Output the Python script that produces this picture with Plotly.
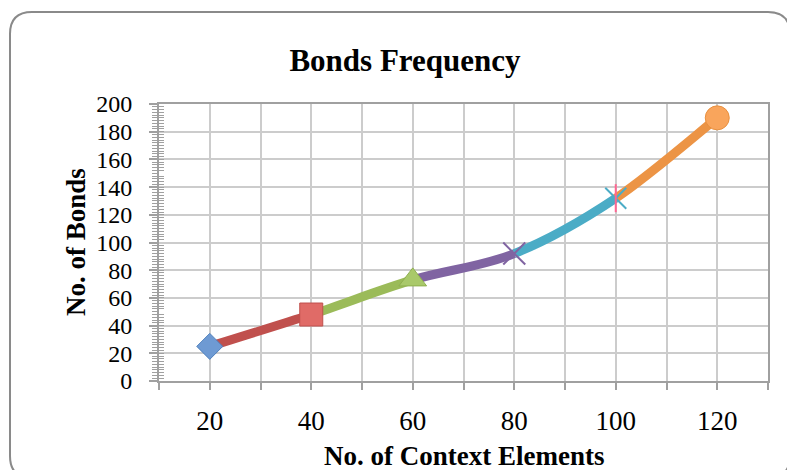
import plotly.graph_objects as go

# Chart data
context_elements = [20, 40, 60, 80, 100, 120]
bonds = [25, 48, 73, 92, 132, 190]
x_tick_labels = ["20", "40", "60", "80", "100", "120"]

# Per-point styling (Office palette)
point_colors = ["#4F81BD", "#C0504D", "#9BBB59", "#8064A2", "#4BACC6", "#F79646"]
point_fills = ["#6E9AD3", "#E06B67", "#A9C96A", "#8064A2", "#4BACC6", "#F9A55C"]
segment_colors = ["#C0504D", "#9BBB59", "#8064A2", "#4BACC6", "#EC9445"]

W, H = 787, 470
ML, MR, MT, MB = 159, 19, 104, 89
PW, PH = W - ML - MR, H - MT - MB

SERIF = "Liberation Serif"
GRID = "#cccccc"
AXIS = "#a0a0a0"

fig = go.Figure()


def bezier_segment(i):
    """Smoothed (Catmull-Rom style) cubic path from point i to point i+1."""
    n = len(context_elements)
    p = list(zip(context_elements, bonds))
    prev = p[max(i - 1, 0)]
    nxt = p[min(i + 2, n - 1)]
    a, b = p[i], p[i + 1]
    c1 = (a[0] + (b[0] - prev[0]) / 6, a[1] + (b[1] - prev[1]) / 6)
    c2 = (b[0] - (nxt[0] - a[0]) / 6, b[1] - (nxt[1] - a[1]) / 6)
    return f"M {a[0]},{a[1]} C {c1[0]},{c1[1]} {c2[0]},{c2[1]} {b[0]},{b[1]}"


shapes = []
# each segment takes the colour of the point it leads to
for i in range(len(context_elements) - 1):
    shapes.append(dict(type="path", path=bezier_segment(i), xref="x", yref="y",
                       line=dict(color=segment_colors[i], width=9), layer="between"))

# Point markers
marker_specs = [
    dict(symbol="diamond", size=20, color=point_fills[0], line=dict(color=point_colors[0], width=1)),
    dict(symbol="square", size=23, color=point_fills[1], line=dict(color=point_colors[1], width=1)),
    dict(symbol="triangle-up", size=24, color=point_fills[2], line=dict(color="#8fb04f", width=1)),
    dict(symbol="x-thin-open", size=22, color=point_colors[3], line=dict(color=point_colors[3], width=2)),
    dict(symbol="x-thin-open", size=21, color=point_colors[4], line=dict(color=point_colors[4], width=2)),
    dict(symbol="circle", size=24, color=point_fills[5], line=dict(color="#E8903F", width=1)),
]
for i, spec in enumerate(marker_specs):
    fig.add_trace(go.Scatter(
        x=[context_elements[i]], y=[bonds[i]], mode="markers",
        marker=spec, showlegend=False, hoverinfo="x+y",
    ))
# vertical stroke that turns the cyan cross into a star
fig.add_trace(go.Scatter(
    x=[context_elements[4]], y=[bonds[4]], mode="markers",
    marker=dict(symbol="line-ns-open", size=20,
                line=dict(color=point_colors[4], width=2)),
    showlegend=False, hoverinfo="skip",
))

# invisible trace carrying the inner minor-tick axis
fig.add_trace(go.Scatter(x=[20], y=[0], yaxis="y2", mode="markers",
                         marker=dict(opacity=0), showlegend=False, hoverinfo="skip"))

grid_vals = list(range(10, 131, 10))
grid_text = [str(v) if str(v) in x_tick_labels else "" for v in grid_vals]


def px_x(p):
    return (p - ML) / PW


def px_y(p):
    return (H - MB - p) / PH


# rounded chart-area border
x0, x1, y0, y1, r = 10, 790, 12, 478, 22
path = (
    f"M {px_x(x0 + r)},{px_y(y0)} L {px_x(x1 - r)},{px_y(y0)} "
    f"Q {px_x(x1)},{px_y(y0)} {px_x(x1)},{px_y(y0 + r)} "
    f"L {px_x(x1)},{px_y(y1 - r)} Q {px_x(x1)},{px_y(y1)} {px_x(x1 - r)},{px_y(y1)} "
    f"L {px_x(x0 + r)},{px_y(y1)} Q {px_x(x0)},{px_y(y1)} {px_x(x0)},{px_y(y1 - r)} "
    f"L {px_x(x0)},{px_y(y0 + r)} Q {px_x(x0)},{px_y(y0)} {px_x(x0 + r)},{px_y(y0)} Z"
)
shapes.append(dict(type="path", path=path, xref="paper", yref="paper",
                   line=dict(color="#8a8a8a", width=2), layer="below"))

# axis titles
annotations = [
    dict(text="<b>No. of Context Elements</b>", xref="paper", yref="paper",
         x=0.5, y=px_y(456), xanchor="center", yanchor="middle", showarrow=False,
         font=dict(size=27, family=SERIF, color="#000000")),
    dict(text="<b>No. of Bonds</b>", xref="paper", yref="paper", textangle=-90,
         x=px_x(76), y=px_y(242), xanchor="center", yanchor="middle", showarrow=False,
         font=dict(size=27, family=SERIF, color="#000000")),
]

fig.update_layout(
    width=W, height=H,
    margin=dict(l=ML, r=MR, t=MT, b=MB, autoexpand=False),
    paper_bgcolor="white", plot_bgcolor="white",
    font=dict(family=SERIF, color="#000000"),
    title=dict(text="<b>Bonds Frequency</b>", font=dict(size=31, family=SERIF),
               x=(405 / W), xanchor="center", xref="container",
               y=1 - 60 / H, yanchor="middle", yref="container"),
    xaxis=dict(
        range=[10, 130], tickmode="array", tickvals=grid_vals, ticktext=grid_text,
        showgrid=True, gridcolor=GRID, gridwidth=2,
        showline=True, linecolor=AXIS, linewidth=2, mirror=True,
        ticks="outside", ticklen=7, tickwidth=2, tickcolor=AXIS,
        tickfont=dict(size=27, family=SERIF), ticklabelstandoff=8,
        zeroline=False, automargin=False,
    ),
    yaxis=dict(
        range=[0, 200], dtick=20, tick0=0,
        showgrid=True, gridcolor=GRID, gridwidth=2,
        showline=True, linecolor=AXIS, linewidth=2, mirror=True,
        ticks="outside", ticklen=8, tickwidth=2, tickcolor=AXIS,
        tickfont=dict(size=24, family=SERIF), ticklabelstandoff=12,
        minor=dict(dtick=2, ticks="outside", ticklen=5, tickwidth=1, tickcolor=AXIS, showgrid=False),
        zeroline=False, automargin=False,
    ),
    yaxis2=dict(
        range=[0, 200], overlaying="y", side="left", showgrid=False, zeroline=False,
        showticklabels=False, ticks="", showline=False, automargin=False,
        minor=dict(dtick=2, ticks="inside", ticklen=5, tickwidth=1, tickcolor=AXIS, showgrid=False),
    ),
    shapes=shapes,
    annotations=annotations,
)

fig.write_html("out.html")
